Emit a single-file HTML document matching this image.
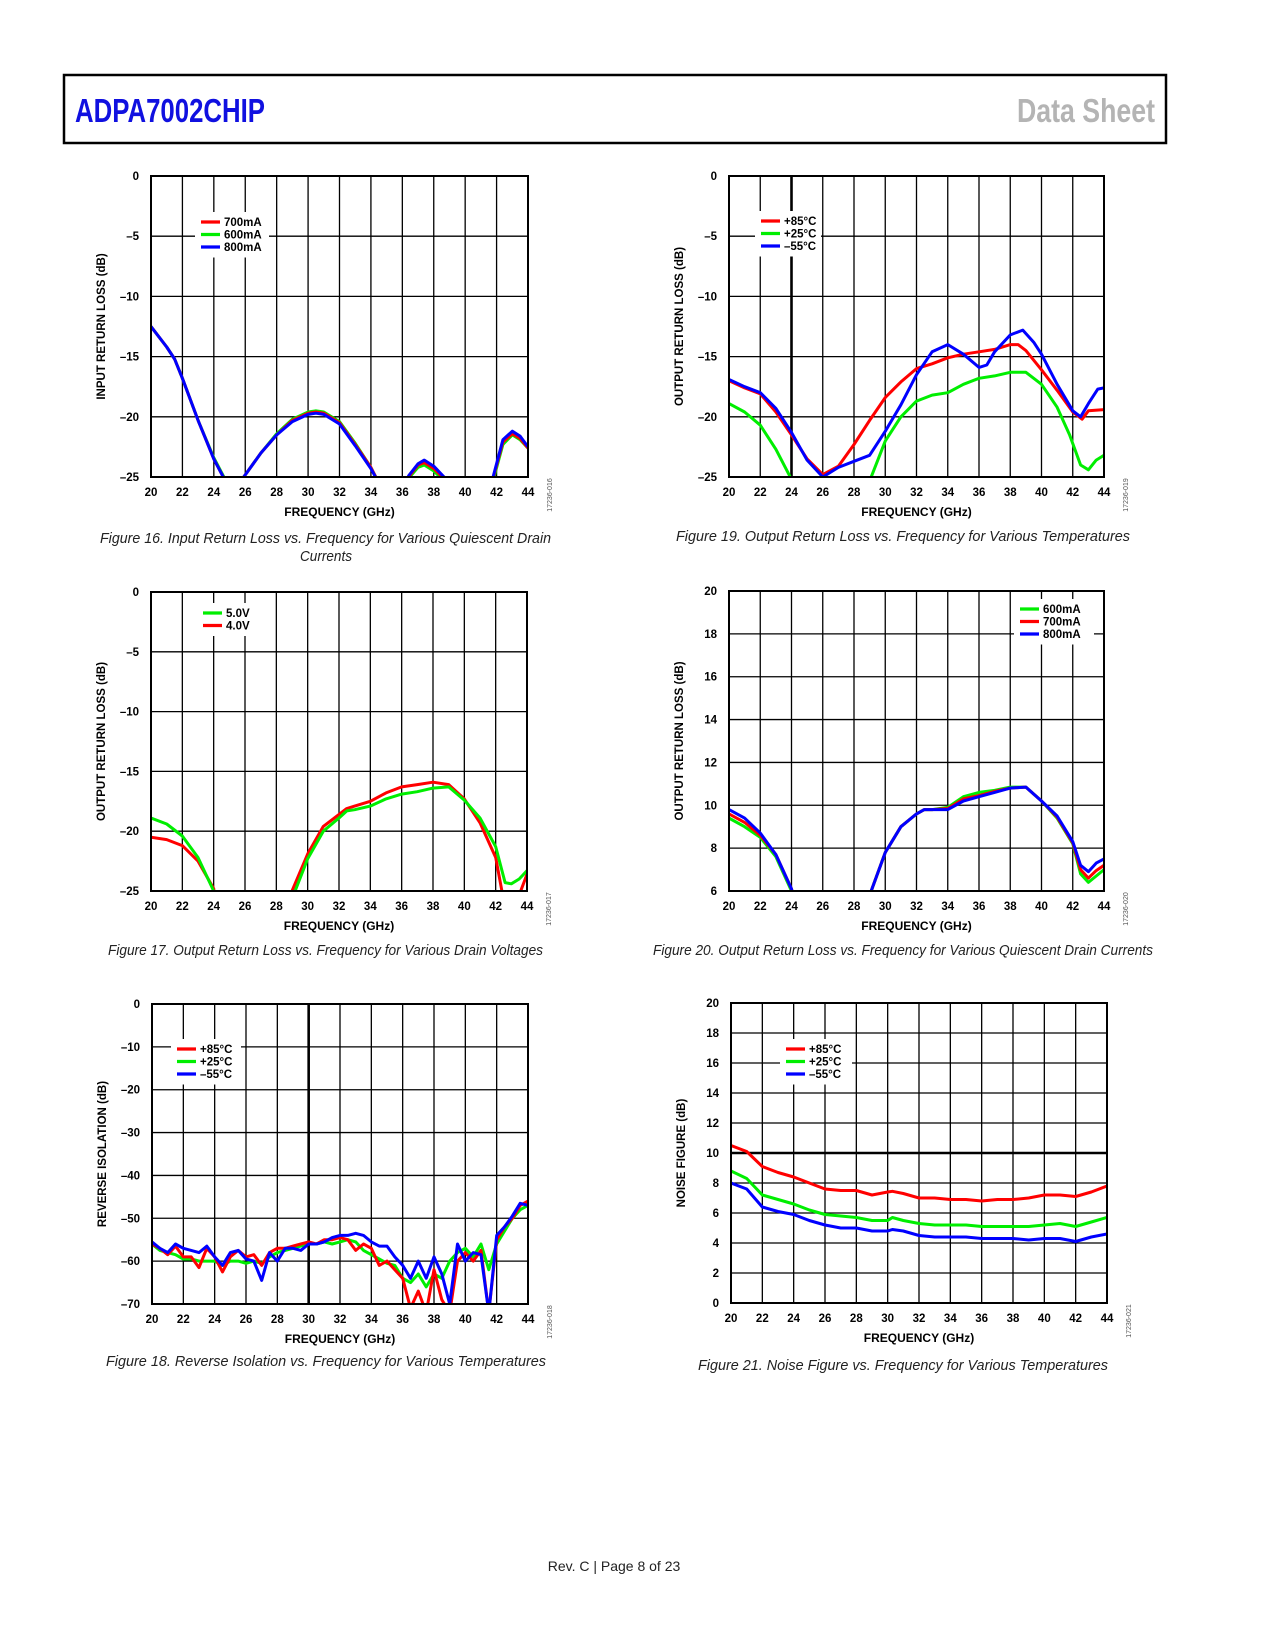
<!DOCTYPE html>
<html><head><meta charset="utf-8"><style>
html,body{margin:0;padding:0;background:#fff;}
svg{display:block;font-family:"Liberation Sans",Arial,sans-serif;}
</style></head><body>
<svg id="page" width="1275" height="1650" viewBox="0 0 1275 1650" xmlns="http://www.w3.org/2000/svg">
<rect x="64" y="75" width="1102" height="68" fill="none" stroke="#000" stroke-width="2.5"/>
<text x="75" y="122" font-size="33" font-weight="bold" fill="#1010e0" textLength="190" lengthAdjust="spacingAndGlyphs">ADPA7002CHIP</text>
<text x="1017" y="122" font-size="33" font-weight="bold" fill="#b4b4b4" textLength="138" lengthAdjust="spacingAndGlyphs">Data Sheet</text>
<text x="614" y="1571" font-size="14" text-anchor="middle" fill="#222">Rev. C | Page 8 of 23</text>
<g id="charts"></g>
</svg>
<script>
// ---------- Figure 16 data ----------
const f16_freq_r = [20,21,21.5,22,23,24,24.8,25.5,25.9,27,28,29,30,30.5,31,32,33,34,34.5,35,36,36.4,37,37.4,38,38.8,39.5,41,41.8,42.4,43,43.5,44];
const f16_700 = [-12.5,-14.2,-15.2,-16.8,-20.3,-23.5,-25.5,-27,-25,-23,-21.5,-20.3,-19.7,-19.6,-19.7,-20.5,-22.3,-24.2,-25.5,-28,-27,-25,-24,-23.8,-24.3,-25.3,-28,-28,-25,-22.1,-21.4,-21.8,-22.6];
const f16_600 = [-12.5,-14.2,-15.2,-16.8,-20.3,-23.4,-25.4,-27,-25,-23,-21.4,-20.2,-19.6,-19.5,-19.6,-20.4,-22.2,-24.2,-25.5,-28,-27,-25.1,-24.2,-24,-24.5,-25.5,-28,-28,-25.2,-22.3,-21.5,-21.9,-22.6];
const f16_800 = [-12.5,-14.2,-15.2,-16.8,-20.3,-23.5,-25.5,-27,-25,-23,-21.5,-20.4,-19.8,-19.7,-19.8,-20.6,-22.4,-24.3,-25.5,-28,-27,-24.9,-23.9,-23.6,-24.1,-25.2,-28,-28,-24.9,-21.9,-21.2,-21.6,-22.5];
// ---------- Figure 19 data ----------
const f19_freq_r = [20,21,22,23,24,25,26,27,28,29,30,31,32,33,34,35,36,37,38,38.5,39,40,41,42,42.6,43,44];
const f19_p85 = [-17,-17.6,-18.1,-19.6,-21.5,-23.5,-24.8,-24.1,-22.3,-20.3,-18.4,-17.1,-16,-15.6,-15.1,-14.8,-14.6,-14.4,-14,-14,-14.5,-16.1,-17.8,-19.6,-20.2,-19.5,-19.4];
const f19_freq_b = [20,21,22,23,24,25,26,27,28,29,30,31,32,33,34,35,36,36.5,37,38,38.8,39.5,40,41,42,42.5,43,43.6,44];
const f19_m55 = [-16.9,-17.5,-18,-19.3,-21.3,-23.6,-25,-24.2,-23.7,-23.2,-21.2,-19,-16.5,-14.6,-14,-14.8,-15.9,-15.7,-14.6,-13.2,-12.8,-13.8,-14.8,-17.3,-19.5,-20,-18.9,-17.7,-17.6];
const f19_freq_g = [20,21,22,23,24,24.5,28.5,29.1,30,31,32,33,34,35,36,37,38,39,40,41,41.8,42.5,43,43.5,44];
const f19_p25 = [-18.9,-19.6,-20.7,-22.7,-25.2,-27,-27,-25,-22,-20,-18.7,-18.2,-18,-17.3,-16.8,-16.6,-16.3,-16.3,-17.3,-19.2,-21.5,-24,-24.4,-23.6,-23.2];
// ---------- Figure 17 data ----------
const f17_freq_g = [20,21,22,23,24,24.3,28.8,29.2,30,31,32,32.5,33,34,35,36,37,38,39,40,41,42,42.6,43,43.5,44];
const f17_5v = [-18.9,-19.4,-20.4,-22.2,-25,-27,-27,-25,-22.3,-20,-18.9,-18.3,-18.2,-17.9,-17.3,-16.9,-16.7,-16.4,-16.3,-17.4,-18.9,-21.3,-24.3,-24.4,-24,-23.3];
const f17_freq_r = [20,21,22,23,24,24.2,28.7,29,30,31,32,32.5,33,34,35,36,37,38,39,40,41,42,42.4,42.6,43.3,43.6,44];
const f17_4v = [-20.5,-20.7,-21.2,-22.5,-24.8,-27,-27,-25,-21.9,-19.6,-18.6,-18.1,-17.9,-17.5,-16.8,-16.3,-16.1,-15.9,-16.1,-17.3,-19.3,-22.2,-25,-27,-27,-25,-23.6];
// ---------- Figure 20 data ----------
const f20_freq = [20,21,22,23,24,24.2,28.8,29.1,30,31,32,32.5,33,34,35,36,37,38,39,40,41,42,42.5,43,43.5,44];
const f20_600 = [9.4,9.0,8.5,7.6,6.0,5.5,5.5,6,7.8,9.0,9.6,9.8,9.8,9.9,10.4,10.6,10.7,10.85,10.85,10.2,9.4,8.2,6.8,6.4,6.7,7.0];
const f20_700 = [9.6,9.2,8.6,7.7,6.1,5.5,5.5,6,7.8,9.0,9.6,9.8,9.8,9.85,10.3,10.45,10.65,10.8,10.85,10.2,9.45,8.25,7.0,6.6,6.95,7.2];
const f20_800 = [9.8,9.4,8.7,7.7,6.1,5.5,5.5,6,7.8,9.0,9.6,9.8,9.8,9.8,10.2,10.4,10.6,10.8,10.85,10.2,9.5,8.3,7.2,6.9,7.3,7.5];
// ---------- Figure 18 data ----------
const f18_freq = [20,20.5,21,21.5,22,22.5,23,23.5,24,24.5,25,25.5,26,26.5,27,27.5,28,28.5,29,29.5,30,30.5,31,31.5,32,32.5,33,33.5,34,34.5,35,35.5,36,36.5,37,37.5,38,38.5,39,39.5,40,40.5,41,41.5,42,42.5,43,43.5,44];
const f18_p85 = [-56,-57,-58.5,-56.5,-59,-59,-61.5,-57,-59,-62.5,-59,-57.5,-59,-58.5,-61,-58,-57,-57,-56.5,-56,-55.5,-56,-55,-55,-54.5,-55,-57.5,-56,-57,-61,-60,-62,-64,-71,-67,-72,-62,-69,-72,-60,-58,-60,-57.5,-72,-55,-52,-50,-47,-46];
const f18_p25 = [-56,-57.5,-58,-58.5,-59.5,-59.5,-60,-60,-60,-61,-60,-60,-60.5,-60,-60.5,-59,-58,-57.5,-57,-56.5,-56,-56,-55.5,-56,-55.5,-55,-55.5,-57.5,-58.5,-59.5,-60.5,-61,-64,-65,-63,-66,-63,-64,-60,-58,-57,-59,-56,-62,-56,-53,-50,-48,-47];
const f18_m55 = [-55.5,-57,-58,-56,-57,-57.5,-58,-56.5,-59,-61,-58,-57.5,-59.5,-60,-64.5,-58,-60,-57,-57,-57.5,-56,-56,-55.5,-54.5,-54,-54,-53.5,-54,-55.5,-56.5,-56.5,-59,-61,-64,-60,-64,-59,-63,-70,-56,-60,-58,-58.5,-72,-54,-52,-49.5,-46.5,-47];
// ---------- Figure 21 data ----------
const f21_freq = [20,21,22,23,24,25,26,27,28,29,30,30.3,31,32,33,34,35,36,37,38,39,40,41,42,43,44];
const f21_p85 = [10.5,10.1,9.1,8.7,8.4,8.0,7.6,7.5,7.5,7.2,7.4,7.45,7.3,7.0,7.0,6.9,6.9,6.8,6.9,6.9,7.0,7.2,7.2,7.1,7.4,7.8];
const f21_p25 = [8.8,8.3,7.2,6.9,6.6,6.2,5.9,5.8,5.7,5.5,5.5,5.7,5.5,5.3,5.2,5.2,5.2,5.1,5.1,5.1,5.1,5.2,5.3,5.1,5.4,5.7];
const f21_m55 = [8.0,7.6,6.4,6.1,5.9,5.5,5.2,5.0,5.0,4.8,4.8,4.9,4.8,4.5,4.4,4.4,4.4,4.3,4.3,4.3,4.2,4.3,4.3,4.1,4.4,4.6];
// ---------- tick labels ----------
const xTicks = [20,22,24,26,28,30,32,34,36,38,40,42,44];
const rlTicks = [0,-5,-10,-15,-20,-25];
const isoTicks = [0,-10,-20,-30,-40,-50,-60,-70];
const orlTicks = [20,18,16,14,12,10,8,6];
const nfTicks = [20,18,16,14,12,10,8,6,4,2,0];

const NS = 'http://www.w3.org/2000/svg';
const root = document.getElementById('charts');
const RED='#ff0000', GRN='#00ee00', BLU='#0000ff';
function mk(tag, attrs, parent){const e=document.createElementNS(NS,tag);for(const k in attrs)e.setAttribute(k,attrs[k]);(parent||root).appendChild(e);return e;}
function fmt(v){return v<0?'\u2013'+(-v):String(v);}
let clipN=0;
function chart(c){
  const g=mk('g',{});
  
  
  const xs=v=>c.x0+(v-20)/24*(c.x1-c.x0);
  const ys=v=>c.y0+(c.ymax-v)/(c.ymax-c.ymin)*(c.y1-c.y0);
  xTicks.forEach(t=>{const l=mk('line',{x1:xs(t),x2:xs(t),y1:c.y0,y2:c.y1,stroke:'#000','stroke-width':t===c.thickX?2.6:1.3},g);
    
    });
  c.yticks.forEach(t=>{const l=mk('line',{x1:c.x0,x2:c.x1,y1:ys(t),y2:ys(t),stroke:'#000','stroke-width':t===c.thickY?2.6:1.3},g);
    
    });
  const lb=c.legend;
  const bg=mk('rect',{x:lb.x-6,y:lb.y-10,width:lb.w,height:lb.items.length*12.5+8,fill:'#fff'},g);
  
  
  const id='cp'+(clipN++);
  const cp=mk('clipPath',{id:id},g);mk('rect',{x:c.x0,y:c.y0-2,width:c.x1-c.x0,height:c.y1-c.y0+1},cp);
  c.series.forEach(s=>{
    const pts=s.x.map((f,i)=>xs(f).toFixed(1)+','+ys(s.y[i]).toFixed(1)).join(' ');
    const p=mk('polyline',{points:pts,fill:'none',stroke:s.color,'stroke-width':3,'stroke-linejoin':'round','clip-path':'url(#'+id+')'},g);
    
    
  });
  const fr=mk('rect',{x:c.x0,y:c.y0,width:c.x1-c.x0,height:c.y1-c.y0,fill:'none',stroke:'#000','stroke-width':2},g);
  
  
  lb.items.forEach((it,i)=>{
    const y=lb.y+i*12.5;
    const ln=mk('line',{x1:lb.x,x2:lb.x+19,y1:y,y2:y,stroke:it.color,'stroke-width':3.2},g);
    
    
    const tx=mk('text',{x:lb.x+23,y:y+4,'font-size':11.5,'font-weight':'bold'},g);
    tx.textContent=it.label;
    
    
  });
  c.yticks.forEach(t=>{const tx=mk('text',{x:c.x0-12,y:ys(t)+4,'font-size':11.5,'font-weight':'bold','text-anchor':'end'},g);tx.textContent=fmt(t);
    
    });
  xTicks.forEach(t=>{const tx=mk('text',{x:xs(t),y:c.y1+19,'font-size':11.5,'font-weight':'bold','text-anchor':'middle'},g);tx.textContent=t;
    
    });
  const xt=mk('text',{x:(c.x0+c.x1)/2,y:c.y1+39,'font-size':12,'font-weight':'bold','text-anchor':'middle'},g);xt.textContent='FREQUENCY (GHz)';
  
  
  const yc=(c.y0+c.y1)/2;
  const yt=mk('text',{x:c.x0-46,y:yc,'font-size':11.5,'font-weight':'bold','text-anchor':'middle',transform:'rotate(-90 '+(c.x0-46)+' '+yc+')'},g);yt.textContent=c.ytitle;
  
  
  const idt=mk('text',{x:c.x1+24,y:c.y1+18,'font-size':7,fill:'#555','text-anchor':'middle',transform:'rotate(-90 '+(c.x1+24)+' '+(c.y1+18)+')'},g);idt.textContent=c.code;
  
  
  c.caption.forEach(cl=>{const t=mk('text',{x:cl.x,y:cl.y,'font-size':15,'font-style':'italic',fill:'#222',textLength:cl.w,lengthAdjust:'spacingAndGlyphs'},g);t.textContent=cl.t;
    
    });
}
chart({name:'figure-16-input-return-loss',x0:151,x1:528,y0:176,y1:477,ymin:-25,ymax:0,yticks:rlTicks,ytitle:'INPUT RETURN LOSS (dB)',code:'17236-016',
 legend:{x:201,y:222,w:74,items:[{label:'700mA',color:RED},{label:'600mA',color:GRN},{label:'800mA',color:BLU}]},
 series:[{label:'600mA',color:GRN,x:f16_freq_r,y:f16_600},{label:'700mA',color:RED,x:f16_freq_r,y:f16_700},{label:'800mA',color:BLU,x:f16_freq_r,y:f16_800}],
 caption:[{x:100,y:543,w:451,t:'Figure 16. Input Return Loss vs. Frequency for Various Quiescent Drain'},{x:300,y:561,w:52,t:'Currents'}]});
chart({name:'figure-19-output-return-loss-temperature',x0:729,x1:1104,y0:176,y1:477,ymin:-25,ymax:0,yticks:rlTicks,thickX:24,ytitle:'OUTPUT RETURN LOSS (dB)',code:'17236-019',
 legend:{x:761,y:221,w:66,items:[{label:'+85°C',color:RED},{label:'+25°C',color:GRN},{label:'\u201355°C',color:BLU}]},
 series:[{label:'+25C',color:GRN,x:f19_freq_g,y:f19_p25},{label:'+85C',color:RED,x:f19_freq_r,y:f19_p85},{label:'-55C',color:BLU,x:f19_freq_b,y:f19_m55}],
 caption:[{x:676,y:541,w:454,t:'Figure 19. Output Return Loss vs. Frequency for Various Temperatures'}]});
chart({name:'figure-17-output-return-loss-voltage',x0:151,x1:527,y0:592,y1:891,ymin:-25,ymax:0,yticks:rlTicks,ytitle:'OUTPUT RETURN LOSS (dB)',code:'17236-017',
 legend:{x:203,y:613,w:66,items:[{label:'5.0V',color:GRN},{label:'4.0V',color:RED}]},
 series:[{label:'4.0V',color:RED,x:f17_freq_r,y:f17_4v},{label:'5.0V',color:GRN,x:f17_freq_g,y:f17_5v}],
 caption:[{x:108,y:955,w:435,t:'Figure 17. Output Return Loss vs. Frequency for Various Drain Voltages'}]});
chart({name:'figure-20-output-return-loss-current',x0:729,x1:1104,y0:591,y1:891,ymin:6,ymax:20,yticks:orlTicks,ytitle:'OUTPUT RETURN LOSS (dB)',code:'17236-020',
 legend:{x:1020,y:609,w:80,items:[{label:'600mA',color:GRN},{label:'700mA',color:RED},{label:'800mA',color:BLU}]},
 series:[{label:'600mA',color:GRN,x:f20_freq,y:f20_600},{label:'700mA',color:RED,x:f20_freq,y:f20_700},{label:'800mA',color:BLU,x:f20_freq,y:f20_800}],
 caption:[{x:653,y:955,w:500,t:'Figure 20. Output Return Loss vs. Frequency for Various Quiescent Drain Currents'}]});
chart({name:'figure-18-reverse-isolation',x0:152,x1:528,y0:1004,y1:1304,ymin:-70,ymax:0,yticks:isoTicks,thickX:30,ytitle:'REVERSE ISOLATION (dB)',code:'17236-018',
 legend:{x:177,y:1049,w:70,items:[{label:'+85°C',color:RED},{label:'+25°C',color:GRN},{label:'\u201355°C',color:BLU}]},
 series:[{label:'+25C',color:GRN,x:f18_freq,y:f18_p25},{label:'+85C',color:RED,x:f18_freq,y:f18_p85},{label:'-55C',color:BLU,x:f18_freq,y:f18_m55}],
 caption:[{x:106,y:1366,w:440,t:'Figure 18. Reverse Isolation vs. Frequency for Various Temperatures'}]});
chart({name:'figure-21-noise-figure',x0:731,x1:1107,y0:1003,y1:1303,ymin:0,ymax:20,yticks:nfTicks,thickY:10,ytitle:'NOISE FIGURE (dB)',code:'17236-021',
 legend:{x:786,y:1049,w:72,items:[{label:'+85°C',color:RED},{label:'+25°C',color:GRN},{label:'\u201355°C',color:BLU}]},
 series:[{label:'+85C',color:RED,x:f21_freq,y:f21_p85},{label:'+25C',color:GRN,x:f21_freq,y:f21_p25},{label:'-55C',color:BLU,x:f21_freq,y:f21_m55}],
 caption:[{x:698,y:1370,w:410,t:'Figure 21. Noise Figure vs. Frequency for Various Temperatures'}]});
</script>
</body></html>
